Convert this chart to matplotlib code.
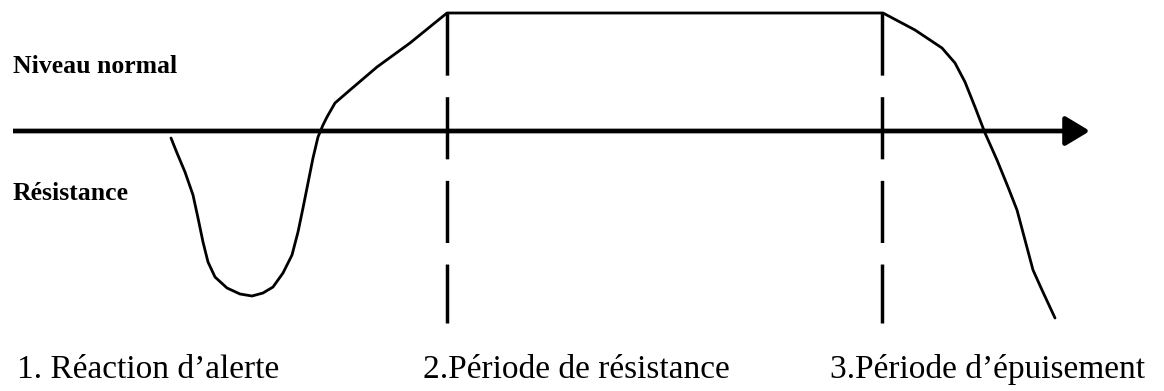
import matplotlib
matplotlib.use("Agg")
import matplotlib.pyplot as plt

# Curve: time position (px-like units) and level relative to the "normal" axis
curve_t = [171, 177, 185, 193, 198, 203, 208, 215, 227, 240, 252, 263, 273, 283,
           292, 298, 303, 308, 313, 318, 323, 327, 335, 350, 377, 410, 447,
           883, 915, 942, 955, 965, 975, 985, 997, 1008, 1017, 1025, 1033, 1042, 1055]
curve_level = [-7, -22, -41, -64, -87, -111, -131, -146, -157, -163, -165, -162, -156, -142,
               -124, -101, -77, -52, -27, -6, 6, 14, 28, 41, 64, 88, 118,
               118, 101, 83, 68, 49, 24, -2, -29, -56, -79, -109, -139, -159, -187]

phase_bounds = [447, 882]
phase_top, phase_bottom = 118, -192
axis_start, axis_end = 13, 1090

top_labels = ["Niveau normal", "Résistance"]
top_label_level = [58, -69]
phase_labels = ["1. Réaction d\u2019alerte", "2.Période de résistance", "3.Période d\u2019épuisement"]
phase_label_x = [17, 423, 830]
phase_label_level = -247

fig = plt.figure(figsize=(11.64, 3.91), dpi=100)
ax = fig.add_axes([0, 0, 1, 1])
ax.set_xlim(0, 1164)
ax.set_ylim(131 - 391, 131)
ax.axis("off")

# main axis with arrow
ax.annotate("", xy=(axis_end, 0), xytext=(axis_start, 0),
            arrowprops=dict(arrowstyle="-|>,head_length=0.75,head_width=0.45",
                            mutation_scale=20, lw=3.4, color="black",
                            shrinkA=0, shrinkB=0, capstyle="butt"))

# dashed phase boundaries
for xb in phase_bounds:
    ax.plot([xb, xb], [phase_top, phase_bottom], color="black", lw=2.5,
            linestyle=(0, (17.9, 6.2)), solid_capstyle="butt", dash_capstyle="butt")

# response curve
ax.plot(curve_t, curve_level, color="black", lw=2.0, solid_joinstyle="round",
        solid_capstyle="round")

for txt, lv in zip(top_labels, top_label_level):
    ax.text(13, lv, txt, family="Liberation Serif", weight="bold", fontsize=18.5,
            va="baseline", ha="left")

for txt, xx in zip(phase_labels, phase_label_x):
    ax.text(xx, phase_label_level, txt, family="Liberation Serif", fontsize=24,
            va="baseline", ha="left")

fig.savefig("out.png", dpi=100)
